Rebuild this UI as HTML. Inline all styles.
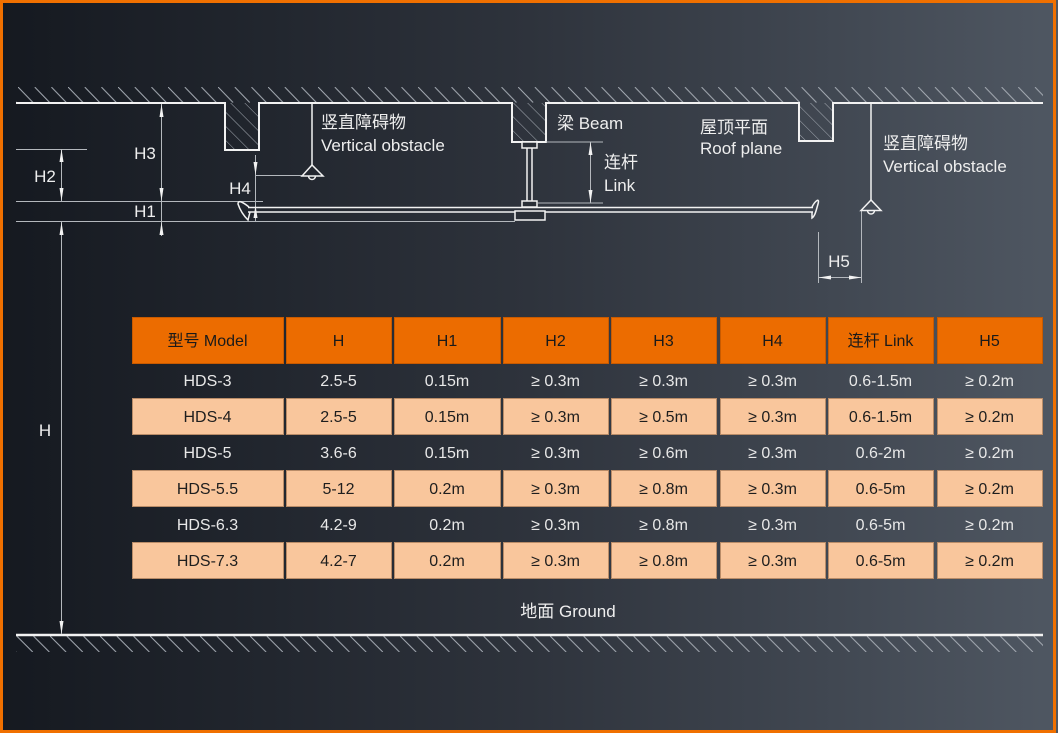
<!DOCTYPE html>
<html>
<head>
<meta charset="utf-8">
<style>
html,body{margin:0;padding:0;background:#1b1f27;}
svg{display:block;}
text{font-family:"Liberation Sans","Noto Sans CJK SC",sans-serif;}
</style>
</head>
<body>
<svg width="1058" height="733" viewBox="0 0 1058 733" xmlns="http://www.w3.org/2000/svg">
<defs>
  <linearGradient id="bg" x1="0" y1="0" x2="1" y2="0">
    <stop offset="0" stop-color="#151920"/>
    <stop offset="0.5" stop-color="#2e333c"/>
    <stop offset="1" stop-color="#4f5762"/>
  </linearGradient>
  <pattern id="hc" patternUnits="userSpaceOnUse" x="18" y="87" width="16.67" height="16">
    <line x1="0" y1="0" x2="15" y2="15.5" stroke="#a4aab2" stroke-width="1"/>
  </pattern>
  <pattern id="hg" patternUnits="userSpaceOnUse" x="16.7" y="636" width="16.67" height="17">
    <line x1="0" y1="0" x2="16" y2="16" stroke="#a4aab2" stroke-width="1"/>
  </pattern>
  <pattern id="hb" patternUnits="userSpaceOnUse" width="10" height="10" patternTransform="rotate(-45)">
    <line x1="0" y1="0" x2="0" y2="10" stroke="#a4aab2" stroke-width="1"/>
  </pattern>
</defs>

<!-- background -->
<rect x="0" y="0" width="1058" height="733" fill="url(#bg)"/>
<rect x="1.5" y="1.5" width="1053" height="730" fill="none" stroke="#f07000" stroke-width="3"/>

<!-- ceiling hatch -->
<rect x="16" y="87" width="1027" height="16" fill="url(#hc)"/>
<!-- beams hatch -->
<rect x="225" y="103" width="34" height="47" fill="url(#hb)"/>
<rect x="512" y="103" width="34" height="39" fill="url(#hb)"/>
<rect x="799" y="103" width="34" height="38" fill="url(#hb)"/>
<!-- ceiling line -->
<path d="M16,103 H225 V150 H259 V103 H512 V142 H546 V103 H799 V141 H833 V103 H1043" fill="none" stroke="#f2f2f2" stroke-width="2"/>

<!-- ground -->
<rect x="16" y="636" width="1027" height="16" fill="url(#hg)"/>
<line x1="16" y1="635" x2="1043" y2="635" stroke="#f2f2f2" stroke-width="2.5"/>

<!-- gray reference lines -->
<g stroke="#b4b8bd" stroke-width="1" fill="none">
  <line x1="16" y1="149.5" x2="87" y2="149.5"/>
  <line x1="16" y1="201.5" x2="263" y2="201.5"/>
  <line x1="16" y1="221.5" x2="515" y2="221.5"/>
  <line x1="255" y1="175.5" x2="303" y2="175.5"/>
  <line x1="546" y1="142" x2="603" y2="142"/>
  <line x1="538" y1="203" x2="603" y2="203"/>
  <line x1="590.5" y1="142" x2="590.5" y2="203"/>
  <line x1="161.5" y1="104" x2="161.5" y2="236"/>
  <line x1="61.5" y1="149" x2="61.5" y2="201"/>
  <line x1="61.5" y1="222" x2="61.5" y2="634"/>
  <line x1="255.5" y1="155" x2="255.5" y2="222"/>
  <line x1="818.5" y1="232" x2="818.5" y2="283"/>
  <line x1="861.5" y1="211" x2="861.5" y2="283"/>
  <line x1="818.5" y1="277.5" x2="861.5" y2="277.5"/>
</g>

<!-- arrowheads -->
<g fill="#f2f2f2">
  <polygon points="161.5,104 159.5,117 163.5,117"/>
  <polygon points="161.5,201 159.5,188 163.5,188"/>
  <polygon points="161.5,222 159.5,235 163.5,235"/>
  <polygon points="61.5,149 59.5,162 63.5,162"/>
  <polygon points="61.5,201 59.5,188 63.5,188"/>
  <polygon points="61.5,222 59.5,235 63.5,235"/>
  <polygon points="61.5,634 59.5,621 63.5,621"/>
  <polygon points="255.5,175 253.5,162 257.5,162"/>
  <polygon points="255.5,205 253.5,218 257.5,218"/>
  <polygon points="590.5,142 588.5,155 592.5,155"/>
  <polygon points="590.5,203 588.5,190 592.5,190"/>
  <polygon points="818.5,277.5 831,275.5 831,279.5"/>
  <polygon points="861.5,277.5 849,275.5 849,279.5"/>
</g>

<!-- vertical obstacles -->
<g stroke="#f2f2f2" stroke-width="1.5" fill="none">
  <line x1="312" y1="103" x2="312" y2="165"/>
  <path d="M312,165 L302,176 H323 Z"/>
  <path d="M308.5,176 A3.5,3.5 0 0 0 315.5,176"/>
  <line x1="871" y1="103" x2="871" y2="200"/>
  <path d="M871,200 L861,210.5 H881 Z"/>
  <path d="M867.5,210.5 A3.5,3.5 0 0 0 874.5,210.5"/>
</g>

<!-- fan -->
<g stroke="#f2f2f2" stroke-width="1.5" fill="none">
  <line x1="248" y1="207.5" x2="813" y2="207.5"/>
  <line x1="248" y1="212" x2="813" y2="212"/>
  <path d="M249,207 C244,203 238,199 238,204 C240,210 244,216 248,220 L250,212"/>
  <path d="M812,207 C815,201 820,197 818,204 C816,211 815,216 812,218 L812,212"/>
  <rect x="522" y="142" width="15" height="6" fill="#2a2f37"/>
  <line x1="527" y1="148" x2="527" y2="201"/>
  <line x1="532" y1="148" x2="532" y2="201"/>
  <rect x="522" y="201" width="15" height="6" fill="#2a2f37"/>
  <rect x="515" y="211" width="30" height="9" fill="#2a2f37"/>
</g>

<!-- diagram labels -->
<g fill="#eeeeee" font-size="17">
  <text x="321" y="128">竖直障碍物</text>
  <text x="321" y="151">Vertical obstacle</text>
  <text x="557" y="129">梁 Beam</text>
  <text x="604" y="168">连杆</text>
  <text x="604" y="191">Link</text>
  <text x="700" y="133">屋顶平面</text>
  <text x="700" y="154">Roof plane</text>
  <text x="883" y="149">竖直障碍物</text>
  <text x="883" y="172">Vertical obstacle</text>
  <text x="145" y="159" text-anchor="middle">H3</text>
  <text x="45" y="182" text-anchor="middle">H2</text>
  <text x="145" y="217" text-anchor="middle">H1</text>
  <text x="240" y="194" text-anchor="middle">H4</text>
  <text x="45" y="436" text-anchor="middle">H</text>
  <text x="839" y="267" text-anchor="middle">H5</text>
  <text x="568" y="617" text-anchor="middle">地面 Ground</text>
</g>

<!-- table header -->
<g fill="#ec6c00" stroke="#c85a00" stroke-width="1">
  <rect x="132.5" y="317.5" width="151" height="46"/>
  <rect x="286.5" y="317.5" width="105" height="46"/>
  <rect x="394.5" y="317.5" width="106" height="46"/>
  <rect x="503.5" y="317.5" width="105" height="46"/>
  <rect x="611.5" y="317.5" width="105" height="46"/>
  <rect x="720.5" y="317.5" width="105" height="46"/>
  <rect x="828.5" y="317.5" width="105" height="46"/>
  <rect x="937.5" y="317.5" width="105" height="46"/>
</g>
<g fill="#1a1a1a" font-size="16" text-anchor="middle">
  <text x="207.5" y="346">型号 Model</text>
  <text x="338.5" y="346">H</text>
  <text x="447" y="346">H1</text>
  <text x="555.5" y="346">H2</text>
  <text x="663.5" y="346">H3</text>
  <text x="772.5" y="346">H4</text>
  <text x="880.5" y="346">连杆 Link</text>
  <text x="989.5" y="346">H5</text>
</g>

<!-- filled rows backgrounds -->
<g fill="#f9c69c" stroke="#b98c68" stroke-width="1">
  <rect x="132.5" y="398.5" width="151" height="36"/>
  <rect x="286.5" y="398.5" width="105" height="36"/>
  <rect x="394.5" y="398.5" width="106" height="36"/>
  <rect x="503.5" y="398.5" width="105" height="36"/>
  <rect x="611.5" y="398.5" width="105" height="36"/>
  <rect x="720.5" y="398.5" width="105" height="36"/>
  <rect x="828.5" y="398.5" width="105" height="36"/>
  <rect x="937.5" y="398.5" width="105" height="36"/>

  <rect x="132.5" y="470.5" width="151" height="36"/>
  <rect x="286.5" y="470.5" width="105" height="36"/>
  <rect x="394.5" y="470.5" width="106" height="36"/>
  <rect x="503.5" y="470.5" width="105" height="36"/>
  <rect x="611.5" y="470.5" width="105" height="36"/>
  <rect x="720.5" y="470.5" width="105" height="36"/>
  <rect x="828.5" y="470.5" width="105" height="36"/>
  <rect x="937.5" y="470.5" width="105" height="36"/>

  <rect x="132.5" y="542.5" width="151" height="36"/>
  <rect x="286.5" y="542.5" width="105" height="36"/>
  <rect x="394.5" y="542.5" width="106" height="36"/>
  <rect x="503.5" y="542.5" width="105" height="36"/>
  <rect x="611.5" y="542.5" width="105" height="36"/>
  <rect x="720.5" y="542.5" width="105" height="36"/>
  <rect x="828.5" y="542.5" width="105" height="36"/>
  <rect x="937.5" y="542.5" width="105" height="36"/>
</g>

<!-- unfilled rows text -->
<g fill="#e8e8e8" font-size="16" text-anchor="middle">
  <text x="207.5" y="386">HDS-3</text>
  <text x="338.5" y="386">2.5-5</text>
  <text x="447" y="386">0.15m</text>
  <text x="555.5" y="386">≥ 0.3m</text>
  <text x="663.5" y="386">≥ 0.3m</text>
  <text x="772.5" y="386">≥ 0.3m</text>
  <text x="880.5" y="386">0.6-1.5m</text>
  <text x="989.5" y="386">≥ 0.2m</text>

  <text x="207.5" y="458">HDS-5</text>
  <text x="338.5" y="458">3.6-6</text>
  <text x="447" y="458">0.15m</text>
  <text x="555.5" y="458">≥ 0.3m</text>
  <text x="663.5" y="458">≥ 0.6m</text>
  <text x="772.5" y="458">≥ 0.3m</text>
  <text x="880.5" y="458">0.6-2m</text>
  <text x="989.5" y="458">≥ 0.2m</text>

  <text x="207.5" y="530">HDS-6.3</text>
  <text x="338.5" y="530">4.2-9</text>
  <text x="447" y="530">0.2m</text>
  <text x="555.5" y="530">≥ 0.3m</text>
  <text x="663.5" y="530">≥ 0.8m</text>
  <text x="772.5" y="530">≥ 0.3m</text>
  <text x="880.5" y="530">0.6-5m</text>
  <text x="989.5" y="530">≥ 0.2m</text>
</g>

<!-- filled rows text -->
<g fill="#1e1e1e" font-size="16" text-anchor="middle">
  <text x="207.5" y="422">HDS-4</text>
  <text x="338.5" y="422">2.5-5</text>
  <text x="447" y="422">0.15m</text>
  <text x="555.5" y="422">≥ 0.3m</text>
  <text x="663.5" y="422">≥ 0.5m</text>
  <text x="772.5" y="422">≥ 0.3m</text>
  <text x="880.5" y="422">0.6-1.5m</text>
  <text x="989.5" y="422">≥ 0.2m</text>

  <text x="207.5" y="494">HDS-5.5</text>
  <text x="338.5" y="494">5-12</text>
  <text x="447" y="494">0.2m</text>
  <text x="555.5" y="494">≥ 0.3m</text>
  <text x="663.5" y="494">≥ 0.8m</text>
  <text x="772.5" y="494">≥ 0.3m</text>
  <text x="880.5" y="494">0.6-5m</text>
  <text x="989.5" y="494">≥ 0.2m</text>

  <text x="207.5" y="566">HDS-7.3</text>
  <text x="338.5" y="566">4.2-7</text>
  <text x="447" y="566">0.2m</text>
  <text x="555.5" y="566">≥ 0.3m</text>
  <text x="663.5" y="566">≥ 0.8m</text>
  <text x="772.5" y="566">≥ 0.3m</text>
  <text x="880.5" y="566">0.6-5m</text>
  <text x="989.5" y="566">≥ 0.2m</text>
</g>
</svg>
</body>
</html>
